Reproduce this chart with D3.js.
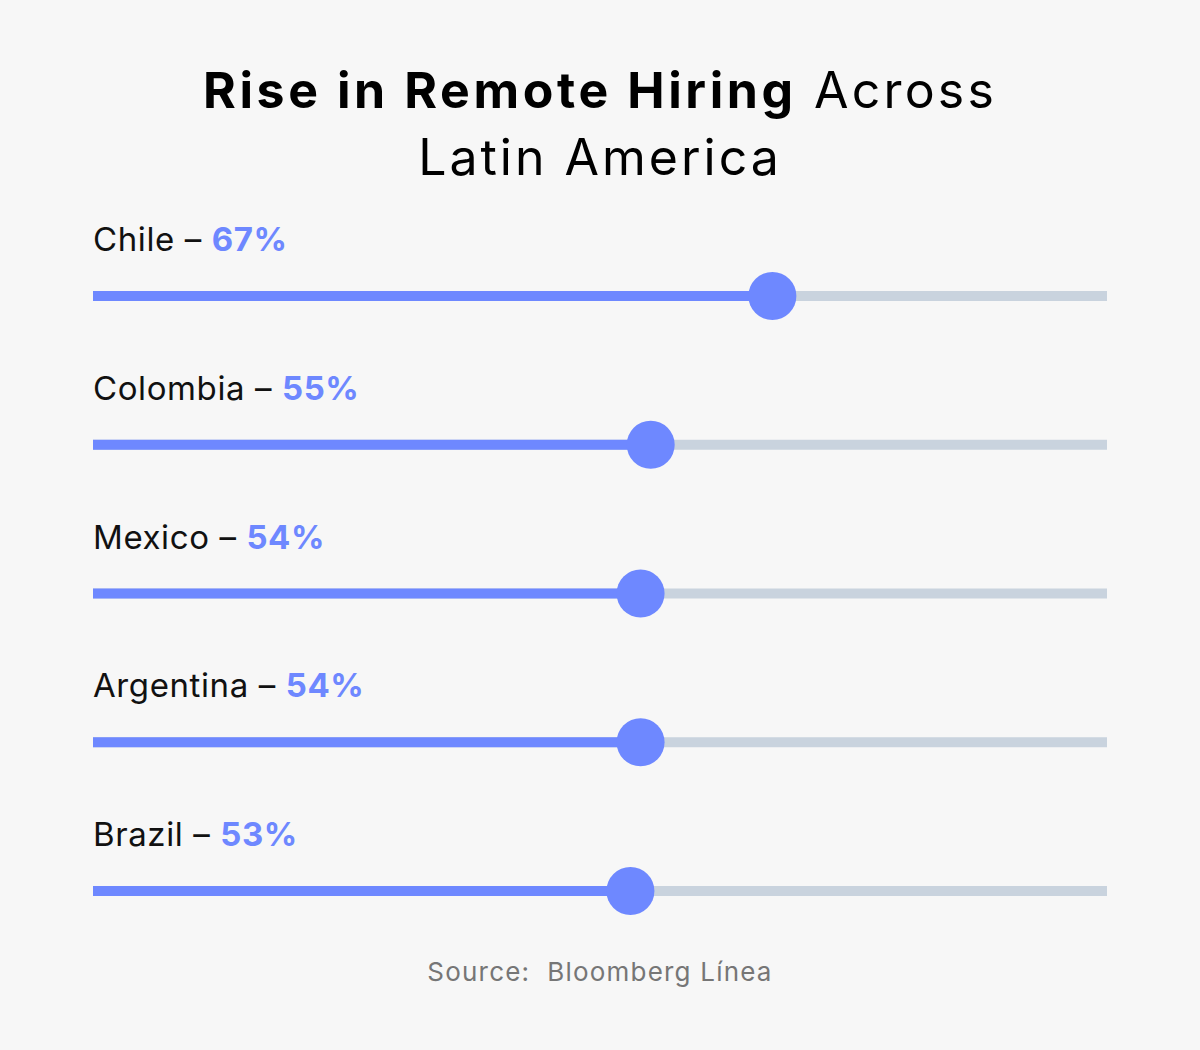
<!DOCTYPE html>
<html>
<head>
<meta charset="utf-8">
<script src="https://cdn.jsdelivr.net/npm/d3@7"></script>
<style>
  body { margin: 0; background: #f7f7f7; }
  svg { display: block; }
</style>
</head>
<body>
<svg id="chart"></svg>
<script>
const countries = ["Chile", "Colombia", "Mexico", "Argentina", "Brazil"];
const shares = [67, 55, 54, 54, 53];

const width = 1200;
const height = 1050;
const blue = "#6e88ff";
const grey = "#c9d3de";

const svg = d3.select("#chart")
  .attr("width", width)
  .attr("height", height)
  .style("font-family", "Inter, 'Noto Sans', sans-serif");

svg.append("rect").attr("width", width).attr("height", height).attr("fill", "#f7f7f7");

// title, wide geometric look -> spread letters a bit
const title = svg.append("text")
  .attr("text-anchor", "middle")
  .attr("font-size", 50)
  .attr("fill", "#000");
const t1 = title.append("tspan").attr("x", width / 2).attr("y", 108);
t1.append("tspan").attr("font-weight", 700).attr("letter-spacing", 3.6).text("Rise in Remote Hiring");
t1.append("tspan").attr("font-weight", 400).attr("letter-spacing", 3.2).text(" Across");
title.append("tspan").attr("x", width / 2).attr("y", 175)
  .attr("font-weight", 400).attr("letter-spacing", 3).text("Latin America");

const x = d3.scaleLinear().domain([0, 100]).range([93, 1107]);
const y = d3.scalePoint().domain(countries).range([296, 891]);

const rows = svg.append("g").selectAll("g")
  .data(countries)
  .join("g")
  .attr("transform", d => `translate(0,${y(d)})`);

// label above each track
const label = rows.append("text")
  .attr("x", x(0))
  .attr("y", -45)
  .attr("font-size", 33)
  .attr("letter-spacing", 0.6);
label.append("tspan").attr("fill", "#111").text(d => d + " \u2013 ");
label.append("tspan")
  .attr("fill", blue)
  .attr("font-weight", 700)
  .text((d, i) => shares[i] + "%");

// background track
rows.append("rect")
  .attr("x", x(0))
  .attr("y", -5)
  .attr("width", x(100) - x(0))
  .attr("height", 10)
  .attr("fill", grey);

// filled part
rows.append("rect")
  .attr("x", x(0))
  .attr("y", -5)
  .attr("width", (d, i) => x(shares[i]) - x(0))
  .attr("height", 10)
  .attr("fill", blue);

// knob
rows.append("circle")
  .attr("cx", (d, i) => x(shares[i]))
  .attr("cy", 0)
  .attr("r", 24)
  .attr("fill", blue);

svg.append("text")
  .attr("x", width / 2)
  .attr("y", 981)
  .attr("text-anchor", "middle")
  .attr("font-size", 26)
  .attr("letter-spacing", 1.2)
  .style("white-space", "pre")
  .attr("fill", "#767676")
  .text("Source:  Bloomberg L\u00ednea");
</script>
</body>
</html>
